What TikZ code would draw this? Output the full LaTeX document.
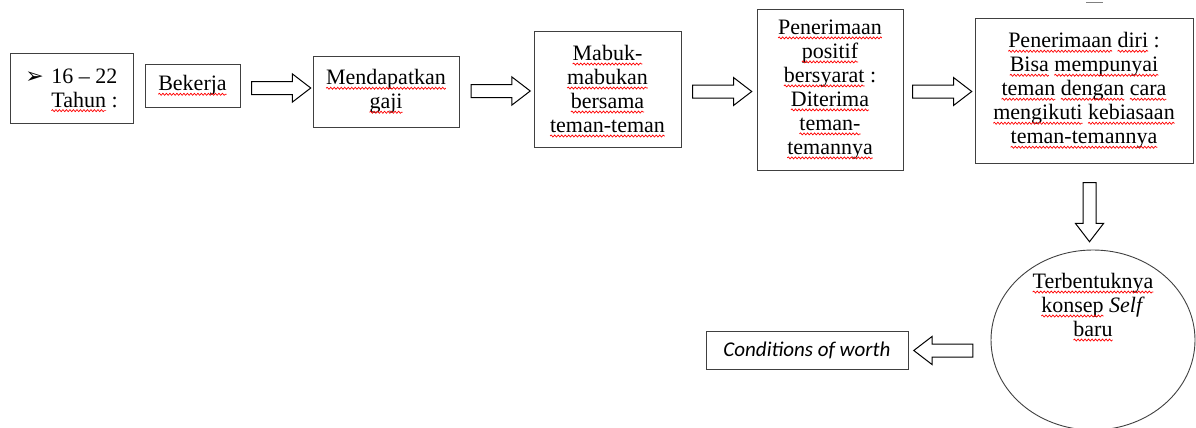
\documentclass[tikz,border=0pt]{standalone}
\usepackage{fontspec}
\setmainfont{Liberation Serif}
\newfontfamily\dejavu{DejaVu Sans}
\newfontfamily\carlito{Carlito}
\usepackage{tikz}
\usetikzlibrary{shapes.arrows, shapes.geometric, decorations.pathmorphing}

% garis gelombang merah di bawah kata
\newcommand{\sq}[1]{\tikz[baseline=(w.base)]{\node[draw=none, shape=rectangle, minimum size=0pt, inner sep=0pt, outer sep=0pt] (w) {#1};
	\draw[red, line width=0.7pt, overlay, decorate, decoration={snake, amplitude=1pt, segment length=3.5pt}] ([yshift=-3.5pt]w.base west) -- ([yshift=-3.5pt]w.base east);}}

\begin{document}
\begin{tikzpicture}[x=1pt, y=-1pt,
		kotak/.style={draw=black!75, line width=0.9pt, align=center, inner sep=2pt, font=\fontsize{22}{24}\selectfont},
		panah/.style={single arrow, draw=black, line width=1pt, inner xsep=0pt, inner ysep=6pt,
			single arrow head extend=7.5pt, single arrow tip angle=75, minimum height=59pt}]
	\useasboundingbox (0,0) rectangle (1196,428);
	
	% baris atas
	\node[kotak, align=left, minimum width=123pt, minimum height=70pt] (usia) at (71.5,88)
		{\makebox[26pt][l]{\dejavu\fontsize{22}{24}\selectfont ➢}16 – 22\\\hspace*{26pt}\sq{Tahun} :};
	\node[kotak, minimum width=95pt, minimum height=43pt] (bekerja) at (192.5,85.5) {\sq{Bekerja}};
	\node[kotak, minimum width=146pt, minimum height=71pt] (gaji) at (386,91.5) {\sq{Mendapatkan}\\\sq{gaji}};
	\node[kotak, minimum width=147pt, minimum height=116pt] (mabuk) at (607.5,89)
		{\sq{Mabuk-}\\\sq{mabukan}\\\sq{bersama}\\\sq{teman-teman}};
	\node[kotak, minimum width=146pt, minimum height=161pt] (positif) at (830,89.5)
		{\sq{Penerimaan}\\\sq{positif}\\\sq{bersyarat} :\\\sq{Diterima}\\\sq{teman-}\\\sq{temannya}};
	\node[kotak, minimum width=218pt, minimum height=145pt] (diri) at (1084,90.5)
		{\sq{Penerimaan} \sq{diri} :\\\sq{Bisa} \sq{mempunyai}\\\sq{teman} \sq{dengan} \sq{cara}\\\sq{mengikuti} \sq{kebiasaan}\\\sq{teman-temannya}};
	
	% baris bawah
	\node[kotak, ellipse, minimum width=204pt, minimum height=180pt] (self) at (1093,340) {};
	\node[align=center, font=\fontsize{22}{24}\selectfont] (selftxt) at (1093,305)
		{\sq{Terbentuknya}\\\sq{konsep} \textit{Self}\\\sq{baru}};
	\node[kotak, minimum width=202pt, minimum height=38pt, font=\fontsize{21}{24}\selectfont] (worth) at (807,350)
		{\carlito\itshape Conditions of worth};
	
	% panah blok
	\node[panah] (a1) at (277,88) {};
	\node[panah] (a2) at (496.5,91) {};
	\node[panah] (a3) at (718,91.5) {};
	\node[panah] (a4) at (938,91.5) {};
	\node[panah, rotate=270] (a5) at (1089.5,208) {};
	\node[panah, rotate=180] (a6) at (947.5,350.5) {};
	
	% sisa garis kecil di tepi atas
	\draw[gray, line width=0.8pt] (1086,2) -- (1103,2);
\end{tikzpicture}
\end{document}
